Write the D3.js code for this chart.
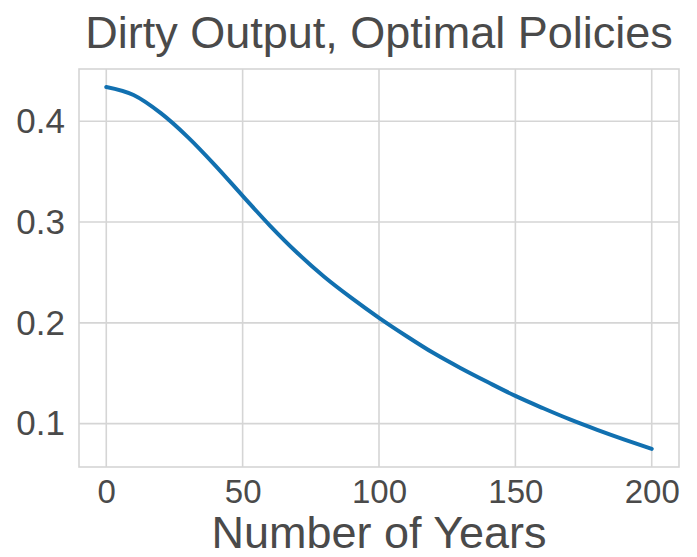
<!DOCTYPE html>
<html>
<head>
<meta charset="utf-8">
<script src="https://cdn.jsdelivr.net/npm/d3@7"></script>
<style>
  body { margin: 0; background: #fff; }
  text { font-family: "Liberation Sans", Arial, sans-serif; fill: #4a4a4a; }
</style>
</head>
<body>
<div id="chart"></div>
<script>
const years = [0, 10, 20, 30, 40, 50, 60, 70, 80, 90, 100, 110, 120, 130, 140, 150, 160, 170, 180, 190, 200];
const output = [0.434, 0.426, 0.408, 0.384, 0.356, 0.326, 0.2965, 0.2695, 0.2455, 0.2245, 0.205, 0.187, 0.170, 0.155, 0.141, 0.1275, 0.1155, 0.1042, 0.0939, 0.0842, 0.0750];
const xTicks = [0, 50, 100, 150, 200];
const yTicks = [0.1, 0.2, 0.3, 0.4];

const width = 697, height = 557;
const margin = { left: 79, right: 18, top: 69, bottom: 90 };

const svg = d3.select("#chart").append("svg")
  .attr("width", width)
  .attr("height", height);

const x = d3.scaleLinear().domain([-10, 210]).range([margin.left, width - margin.right]);
const y = d3.scaleLinear().domain([0.057, 0.4518]).range([height - margin.bottom, margin.top]);

// сетка
svg.selectAll(".vgrid")
  .data(xTicks)
  .enter().append("line")
  .attr("x1", d => x(d)).attr("x2", d => x(d))
  .attr("y1", margin.top).attr("y2", height - margin.bottom)
  .attr("stroke", "#d5d5d5").attr("stroke-width", 1.6);

svg.selectAll(".hgrid")
  .data(yTicks)
  .enter().append("line")
  .attr("x1", margin.left).attr("x2", width - margin.right)
  .attr("y1", d => y(d)).attr("y2", d => y(d))
  .attr("stroke", "#d5d5d5").attr("stroke-width", 1.6);

// рамка
svg.append("rect")
  .attr("x", margin.left).attr("y", margin.top)
  .attr("width", width - margin.left - margin.right)
  .attr("height", height - margin.top - margin.bottom)
  .attr("fill", "none")
  .attr("stroke", "#d5d5d5").attr("stroke-width", 1.6);

// оси
const xAxis = svg.append("g")
  .attr("transform", `translate(0,${height - margin.bottom})`)
  .call(d3.axisBottom(x).tickValues(xTicks).tickSize(0).tickPadding(13));
xAxis.select(".domain").remove();
xAxis.selectAll("text").style("font-size", "33px").attr("fill", "#4a4a4a");

const yAxis = svg.append("g")
  .attr("transform", `translate(${margin.left},0)`)
  .call(d3.axisLeft(y).tickValues(yTicks).tickFormat(d3.format(".1f")).tickSize(0).tickPadding(14));
yAxis.select(".domain").remove();
yAxis.selectAll("text").style("font-size", "35px").attr("fill", "#4a4a4a");

// линия
const line = d3.line()
  .x((d, i) => x(years[i]))
  .y(d => y(d))
  .curve(d3.curveMonotoneX);

svg.append("path")
  .datum(output)
  .attr("d", line)
  .attr("fill", "none")
  .attr("stroke", "#1170b0")
  .attr("stroke-width", 4)
  .attr("stroke-linecap", "round");

// подписи
svg.append("text")
  .attr("x", (margin.left + width - margin.right) / 2)
  .attr("y", 48)
  .attr("text-anchor", "middle")
  .style("font-size", "45px")
  .text("Dirty Output, Optimal Policies");

svg.append("text")
  .attr("x", (margin.left + width - margin.right) / 2)
  .attr("y", 548)
  .attr("text-anchor", "middle")
  .style("font-size", "45px")
  .text("Number of Years");
</script>
</body>
</html>
